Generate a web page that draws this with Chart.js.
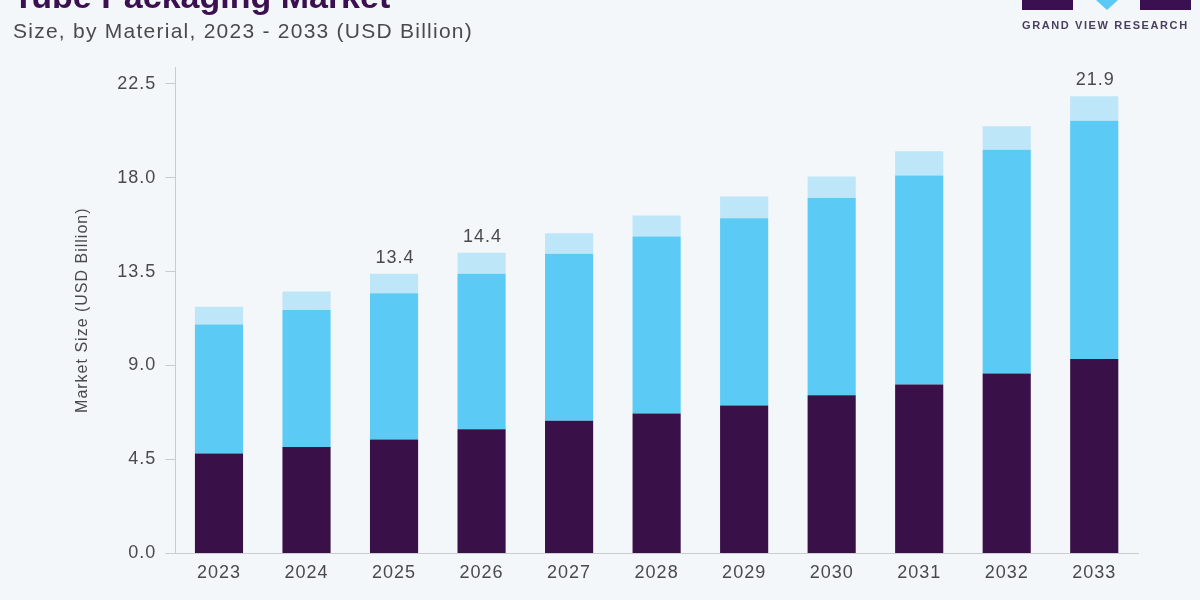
<!DOCTYPE html>
<html>
<head>
<meta charset="utf-8">
<script src="https://cdn.jsdelivr.net/npm/chart.js@4"></script>
<style>
  html, body { margin: 0; padding: 0; background: #f3f7fa; overflow: hidden; }
  #wrap { position: relative; width: 1200px; height: 600px; font-family: "Liberation Sans", Arial, sans-serif; }
  #chart { position: absolute; left: 0; top: 0; }
  .title { position: absolute; left: 13px; top: -21px; font-size: 34px; line-height: 1; font-weight: bold; color: #3a1050; white-space: nowrap; }
  .subtitle { position: absolute; left: 13px; top: 20px; font-size: 21px; line-height: 1; letter-spacing: 1.25px; color: #4a4a4a; white-space: nowrap; }
  .logo-block { position: absolute; top: 0; height: 10px; background: #3a1050; }
  .logo-tri { position: absolute; top: 0; left: 1096px; width: 0; height: 0;
    border-left: 11px solid transparent; border-right: 11px solid transparent; border-top: 10px solid #5bc8f5; }
  .logo-text { position: absolute; left: 1022px; top: 20px; width: 170px; font-size: 11px; line-height: 1; font-weight: bold;
    letter-spacing: 1.6px; color: #4b3d5e; white-space: nowrap; }
</style>
</head>
<body>
<div id="wrap">
  <canvas id="chart" width="1200" height="600"></canvas>
  <div class="title">Tube Packaging Market</div>
  <div class="subtitle">Size, by Material, 2023 - 2033 (USD Billion)</div>
  <div class="logo-block" style="left:1022px;width:51px"></div>
  <div class="logo-tri"></div>
  <div class="logo-block" style="left:1140px;width:51px"></div>
  <div class="logo-text">GRAND VIEW RESEARCH</div>
</div>
<script>
const years = ["2023", "2024", "2025", "2026", "2027", "2028", "2029", "2030", "2031", "2032", "2033"];
const plastic   = [4.78, 5.10, 5.46, 5.95, 6.35, 6.70, 7.09, 7.58, 8.09, 8.62, 9.31];
const laminated = [6.19, 6.56, 7.00, 7.45, 8.00, 8.48, 8.97, 9.44, 10.01, 10.72, 11.42];
const aluminum  = [0.85, 0.88, 0.94, 1.00, 0.99, 1.01, 1.04, 1.04, 1.16, 1.12, 1.17];
const totalLabels = [null, null, "13.4", "14.4", null, null, null, null, null, null, "21.9"];
const yTicks = [0, 4.5, 9, 13.5, 18, 22.5];

const textColor = "#4a4a4a";
const axisColor = "#c9cdd1";
const fontFamily = "'Liberation Sans', Arial, sans-serif";

// the source uses a slightly wider typeface; resizing the canvas resets ctx state, so set it each pass
const spacingPlugin = {
    id: "spacing",
    beforeLayout(chart) { chart.ctx.letterSpacing = "1px"; },
    beforeDraw(chart) { chart.ctx.letterSpacing = "1px"; }
};

// writes the few total values above their bars
const totalsPlugin = {
    id: "totals",
    afterDatasetsDraw(chart) {
        const ctx = chart.ctx;
        const top = chart.getDatasetMeta(chart.data.datasets.length - 1);
        ctx.save();
        ctx.font = "18px " + fontFamily;
        ctx.fillStyle = textColor;
        ctx.textAlign = "center";
        ctx.textBaseline = "alphabetic";
        totalLabels.forEach((lbl, i) => {
            if (!lbl) return;
            const bar = top.data[i];
            ctx.fillText(lbl, bar.x + 1, bar.y - 11);
        });
        ctx.restore();
    }
};

const ctx = document.getElementById("chart").getContext("2d");

new Chart(ctx, {
    type: "bar",
    data: {
        labels: years,
        datasets: [
            { label: "Plastic", data: plastic, backgroundColor: "#3a1048" },
            { label: "Laminated", data: laminated, backgroundColor: "#5bcaf5" },
            { label: "Aluminum", data: aluminum, backgroundColor: "#bde6f8" }
        ]
    },
    options: {
        responsive: false,
        animation: false,
        layout: { padding: { left: 62, right: 62, top: 67, bottom: 7 } },
        datasets: { bar: { categoryPercentage: 0.55, barPercentage: 1 } },
        scales: {
            x: {
                stacked: true,
                grid: { display: false, drawTicks: false },
                border: { display: true, color: axisColor, width: 1 },
                ticks: { color: textColor, padding: 9, font: { size: 18, family: fontFamily } }
            },
            y: {
                stacked: true,
                min: 0,
                max: 23.3,
                afterBuildTicks: scale => { scale.ticks = yTicks.map(v => ({ value: v })); },
                grid: { display: true, drawOnChartArea: false, drawTicks: true, tickLength: 10, color: axisColor },
                border: { display: true, color: axisColor, width: 1 },
                ticks: {
                    color: textColor, padding: 9,
                    font: { size: 18, family: fontFamily },
                    callback: v => Number(v).toFixed(1)
                },
                title: {
                    display: true,
                    text: "Market Size (USD Billion)",
                    color: textColor,
                    padding: { top: 11, bottom: 16 },
                    font: { size: 16, family: fontFamily }
                }
            }
        },
        plugins: {
            legend: { display: false },
            tooltip: { enabled: false }
        }
    },
    plugins: [spacingPlugin, totalsPlugin]
});
</script>
</body>
</html>
